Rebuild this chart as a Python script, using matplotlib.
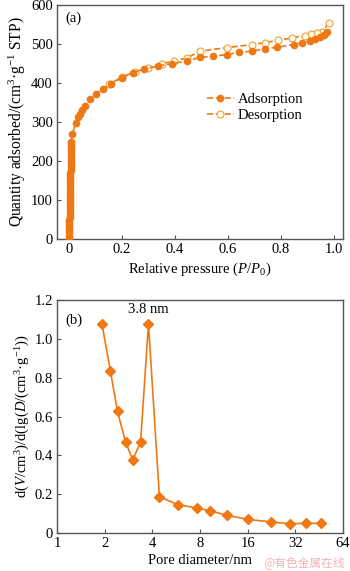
import numpy as np
import matplotlib.pyplot as plt
from matplotlib.ticker import FixedLocator, FixedFormatter

plt.rcParams['font.family'] = ['Liberation Serif', 'DejaVu Serif']
plt.rcParams['mathtext.fontset'] = 'custom'
plt.rcParams['mathtext.rm'] = 'Liberation Serif'
plt.rcParams['mathtext.it'] = 'Liberation Serif:italic'

# (a) N2 isotherm
ads_p = [0.001, 0.001, 0.001, 0.002, 0.002, 0.002, 0.002, 0.003, 0.003, 0.003, 0.003,
         0.003, 0.004, 0.004, 0.004, 0.004, 0.004, 0.005, 0.005, 0.005, 0.005, 0.005,
         0.006, 0.006, 0.006, 0.006, 0.007, 0.007, 0.007, 0.007, 0.008, 0.008, 0.008,
         0.013, 0.025, 0.035, 0.041, 0.05, 0.059, 0.079,
         0.102, 0.127, 0.16, 0.2, 0.24, 0.284, 0.337, 0.39, 0.444, 0.494, 0.545, 0.595,
         0.643, 0.692, 0.74, 0.786, 0.85, 0.88, 0.91, 0.93, 0.95, 0.965, 0.975]
ads_q = [2, 9, 17, 25, 33, 41, 49, 57, 65, 73, 81, 89, 97, 105, 113, 121, 129, 137,
         145, 153, 161, 169, 177, 185, 193, 201, 209, 217, 225, 232, 238, 243, 248,
         269, 298, 312, 322, 331, 341, 358, 371, 385, 398, 414, 427, 436, 444, 450,
         456, 466, 469, 473, 479, 482, 488, 492, 499, 504, 508, 513, 519, 524, 530]
des_p = [0.981, 0.955, 0.935, 0.916, 0.89, 0.843, 0.791, 0.742, 0.692, 0.595, 0.496,
         0.447, 0.396, 0.351, 0.3, 0.25, 0.2, 0.153]
des_q = [555, 530, 528, 525, 522, 516, 510, 504, 499, 491, 482,
         465, 456, 450, 440, 429, 416, 397]

# (b) pore size distribution
pore_d = [1.92, 2.17, 2.41, 2.71, 3.01, 3.37, 3.78, 4.43, 5.79, 7.62, 9.25, 11.84,
          16.13, 22.6, 29.4, 37.2, 46.7]
dvdlogd = [1.078, 0.837, 0.626, 0.468, 0.377, 0.47, 1.077, 0.187, 0.146, 0.129, 0.115,
           0.091, 0.070, 0.057, 0.048, 0.050, 0.050]

orange = '#F07814'
spine = '#555555'

fig = plt.figure(figsize=(3.5, 5.71), dpi=100)
ax1 = fig.add_axes([0.163, 0.5814, 0.817, 0.4096])
ax2 = fig.add_axes([0.163, 0.0665, 0.817, 0.408])

ax1.plot(ads_p, ads_q, '--', color=orange, lw=1.2, marker='o', ms=4.5,
         mfc=orange, mec=orange, label='Adsorption', zorder=3)
ax1.plot(des_p, des_q, '--', color=orange, lw=1.2, marker='o', ms=5,
         mfc='#FFFBEA', mec='#F0A040', mew=0.8, label='Desorption', zorder=2)
ax1.set_xlim(-0.045, 1.035)
ax1.set_ylim(0, 600)
ax1.set_xticks([0, 0.2, 0.4, 0.6, 0.8, 1.0])
ax1.set_xticklabels(['0', '0.2', '0.4', '0.6', '0.8', '1.0'])
ax1.set_yticks(range(0, 601, 100))
ax1.set_xlabel('Relative pressure ($\\mathit{P}$/$\\mathit{P}_0$)', fontsize=10.5, labelpad=3)
ax1.set_ylabel('Quantity adsorbed/(cm$^3$·g$^{-1}$ STP)', fontsize=11.2, labelpad=2)
ax1.text(0.03, 0.93, '(a)', transform=ax1.transAxes, fontsize=10.5)
ax1.legend(loc='upper left', bbox_to_anchor=(0.5, 0.655), frameon=False, fontsize=10.5,
           handlelength=1.8, handletextpad=0.3, borderpad=0, labelspacing=0.2)

ax2.plot(pore_d, dvdlogd, '-', color=orange, lw=1.2, marker='D', ms=5,
         mfc=orange, mec=orange)
ax2.set_xscale('log', base=2)
ax2.set_xlim(1, 64)
ax2.set_ylim(0, 1.2)
xt = [1, 2, 4, 8, 16, 32, 64]
ax2.xaxis.set_major_locator(FixedLocator(xt))
ax2.xaxis.set_major_formatter(FixedFormatter([str(v) for v in xt]))
ax2.xaxis.set_minor_locator(FixedLocator([]))
ax2.set_yticks([0, 0.2, 0.4, 0.6, 0.8, 1.0, 1.2])
ax2.set_yticklabels(['0', '0.2', '0.4', '0.6', '0.8', '1.0', '1.2'])
ax2.set_xlabel('Pore diameter/nm', fontsize=10.5, labelpad=3)
ax2.set_ylabel('d($\\mathit{V}$/cm$^3$)/d(lg($\\mathit{D}$/(cm$^3$·g$^{-1}$))', fontsize=10.5, labelpad=2)
ax2.text(0.03, 0.9, '(b)', transform=ax2.transAxes, fontsize=10.5)
ax2.annotate('3.8 nm', xy=(3.78, 1.077), xytext=(0, 8), textcoords='offset points',
             ha='center', fontsize=10.5)

for ax in (ax1, ax2):
    for s in ax.spines.values():
        s.set_color(spine)
        s.set_linewidth(1.0)
    ax.tick_params(direction='in', length=3, width=0.8, color=spine, labelsize=10.5, pad=3)

fig.text(0.985, 0.004, '@有色金属在线', ha='right', va='bottom', fontsize=8.5,
         color='#F2B4B4', family=['Noto Sans CJK SC', 'DejaVu Sans'])

fig.savefig('out.png', dpi=100)
